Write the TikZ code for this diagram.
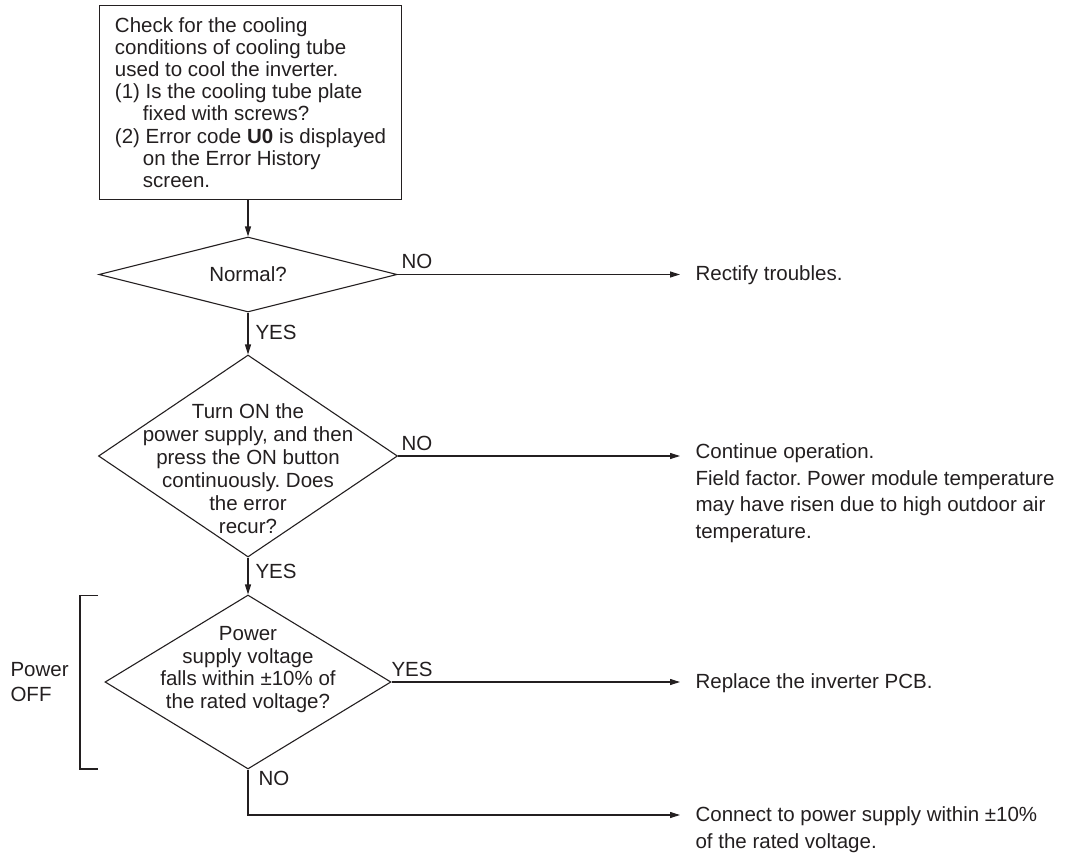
\documentclass[tikz,border=0pt]{standalone}
\usepackage{fontspec}
\setmainfont{Liberation Sans}
\usetikzlibrary{shapes.geometric, positioning, arrows.meta}
\definecolor{ink}{RGB}{35,31,32}
\frenchspacing

\begin{document}
\begin{tikzpicture}[x=1pt, y=-1pt, line width=1.1pt, color=ink,
    every node/.style={font=\fontsize{20.5}{22.1}\selectfont, inner sep=0pt},
    decision/.style={diamond, draw},
    flow/.style={-{Triangle[length=10pt, width=6pt]}},
    result/.style={anchor=base west, align=left, font=\fontsize{20.5}{26.7}\selectfont}]
    \useasboundingbox (0,0) rectangle (1067,856);

    % first check
    \node[draw, anchor=north west, minimum width=302pt, minimum height=194pt,
          align=left] (check) at (99,5)
        {Check for the cooling\\ conditions of cooling tube\\ used to cool the inverter.\\
         (1) Is the cooling tube plate\\ \hspace*{28pt}fixed with screws?\\
         (2) Error code \textbf{U0} is displayed\\ \hspace*{28pt}on the Error History\\
         \hspace*{28pt}screen.};

    % decisions
    \node[decision, minimum width=298pt, minimum height=75pt] (normal) at (248,274.5) {};
    \node (normaltxt) at (normal) {Normal?};

    \node[decision, minimum width=299pt, minimum height=202pt] (recur) at (248,456) {};
    \node[align=center, font=\fontsize{20.5}{23}\selectfont] (recurtxt) at (248,469)
        {Turn ON the\\ power supply, and then\\ press the ON button\\ continuously. Does\\ the error\\ recur?};

    \node[decision, minimum width=286pt, minimum height=174pt] (volt) at (248,682) {};
    \node[align=center, font=\fontsize{20.5}{22.7}\selectfont] (volttxt) at (248,669.5)
        {Power\\ supply voltage\\ falls within ±10\% of\\ the rated voltage?};

    % outcomes (base = last line)
    \node[result] (rectify) at (695,280) {Rectify troubles.};
    \node[result] (goon) at (695,538.5) {Continue operation.\\ Field factor. Power module temperature\\
        may have risen due to high outdoor air\\ temperature.};
    \node[result] (replace) at (695,688) {Replace the inverter PCB.};
    \node[result] (connect) at (695,848) {Connect to power supply within ±10\%\\ of the rated voltage.};

    % power off bracket
    \coordinate (brtop) at (80,595.5);
    \coordinate (brbot) at (80,769);
    \draw ([xshift=18pt]brtop) -- (brtop) -- (brbot) -- ([xshift=18pt]brbot);
    \node[align=left, anchor=west, font=\fontsize{20.5}{25}\selectfont] (pwroff) at (10,682) {Power\\ OFF};

    % connectors
    \draw[flow] (check.south -| normal.north) -- (normal.north);
    \draw[flow] (normal.south) -- (recur.north);
    \draw[flow] (recur.south) -- (volt.north);
    \draw[flow, shorten >=15pt] (normal.east) -- (normal.east -| rectify.west);
    \draw[flow, shorten >=15pt] (recur.east) -- (recur.east -| goon.west);
    \draw[flow, shorten >=15pt] (volt.east) -- (volt.east -| replace.west);
    \coordinate (lowbend) at (248,815);
    \draw[flow, shorten >=15pt] (volt.south) -- (lowbend) -- (lowbend -| connect.west);

    % answers
    \node[anchor=base west] (no1) at (401,268) {NO};
    \node[anchor=west] (yes1) at (255,332) {YES};
    \node[anchor=base west] (no2) at (401,450) {NO};
    \node[anchor=west] (yes2) at (255,571) {YES};
    \node[anchor=base west] (yes3) at (391,676) {YES};
    \node[anchor=west] (no3) at (258,778) {NO};
\end{tikzpicture}
\end{document}
